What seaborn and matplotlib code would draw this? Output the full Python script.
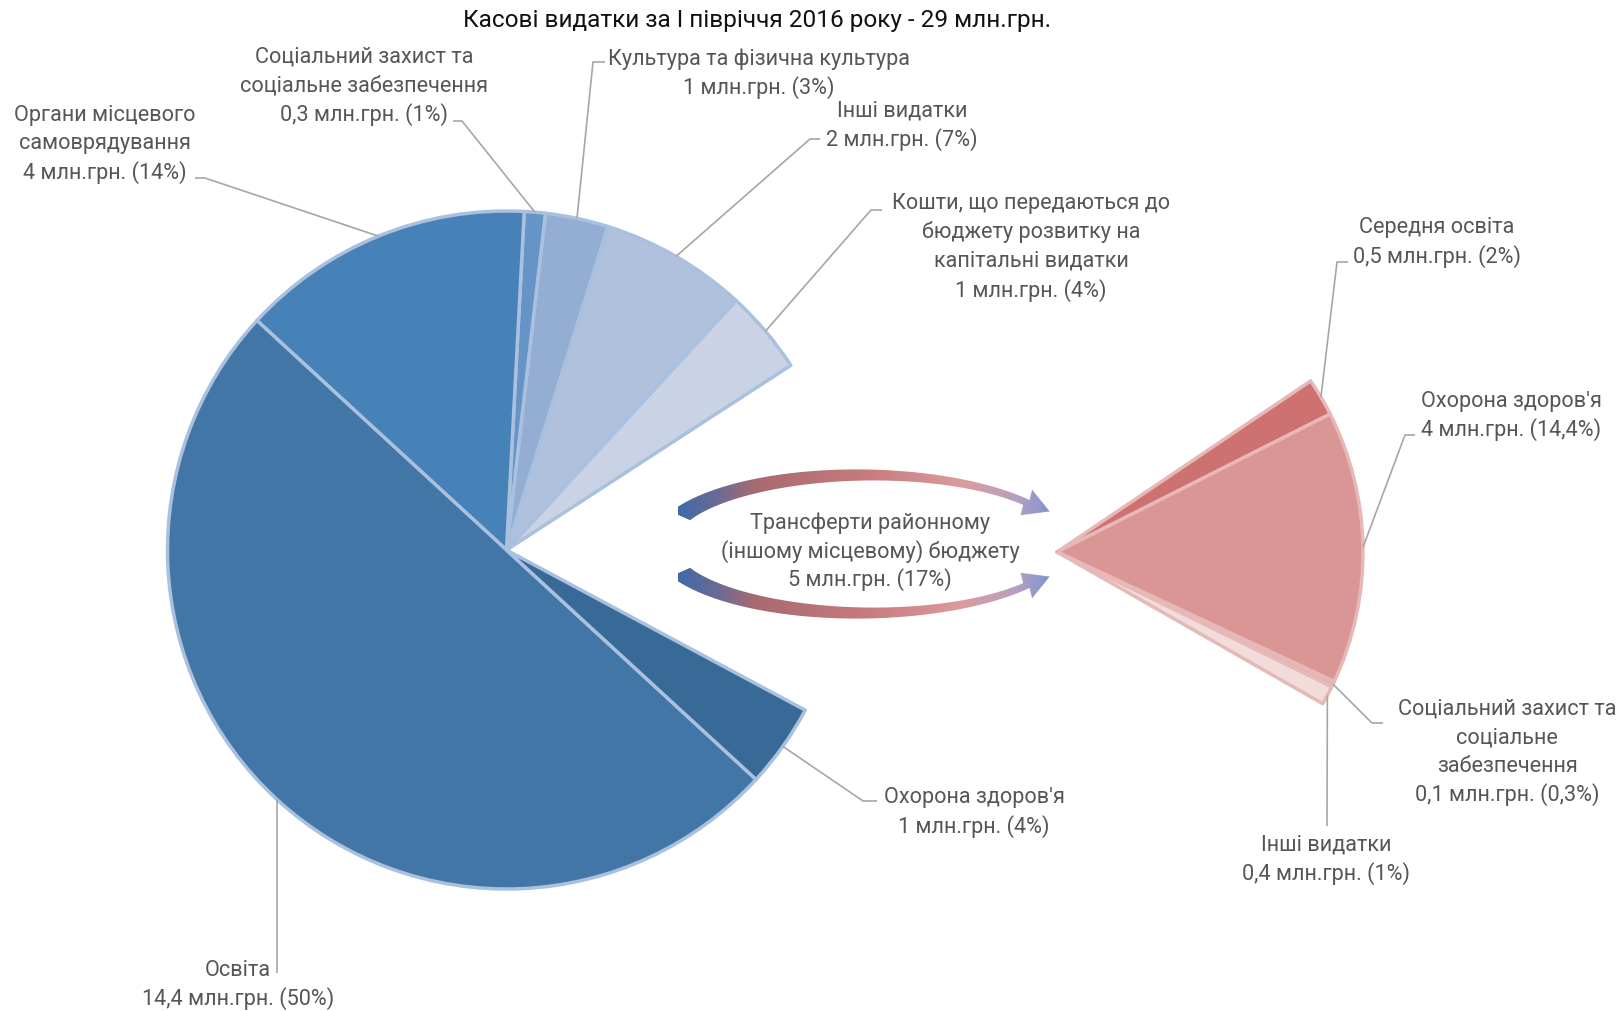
import numpy as np
import matplotlib
matplotlib.use("Agg")
import matplotlib.pyplot as plt
import seaborn as sns
from matplotlib.patches import Polygon
from matplotlib.colors import LinearSegmentedColormap

sns.set_theme(style="white")
plt.rcParams['font.family'] = ['Roboto', 'DejaVu Sans']

W, H = 1621, 1011

title = "Касові видатки за І півріччя 2016 року - 29 млн.грн."

# Main budget: shares of total spending (%), amounts in млн.грн.
main_names = [
    "Трансферти районному\n(іншому місцевому) бюджету",
    "Кошти, що передаються до\nбюджету розвитку на\nкапітальні видатки",
    "Інші видатки",
    "Культура та фізична культура",
    "Соціальний захист та\nсоціальне забезпечення",
    "Органи місцевого\nсамоврядування",
    "Освіта",
    "Охорона здоров'я",
]
main_amounts = [5, 1, 2, 1, 0.3, 4, 14.4, 1]
main_shares = [17, 4, 7, 3, 1, 14, 50, 4]

# Breakdown of the transfers slice
sub_names = [
    "Середня освіта",
    "Охорона здоров'я",
    "Соціальний захист та\nсоціальне\nзабезпечення",
    "Інші видатки",
]
sub_amounts = [0.5, 4, 0.1, 0.4]
sub_shares = [2, 14.4, 0.3, 1]

main_colors = ["#ffffff", "#c9d3e5", "#afc1dc", "#93aed2", "#6694c6",
               "#4682b8", "#4176a6", "#376a96"]
sub_colors = ["#cd7171", "#d99694", "#e4b4b3", "#f2dcdb"]

TEXT = "#565656"
LEAD = "#a6a6a6"
FS = 15.6
DY = 2  # small downward nudge for text baselines


def num(v):
    s = f"{v:g}"
    return s.replace(".", ",")


def label_lines(name, amount, share):
    return name.split("\n") + [f"{num(amount)} млн.грн. ({num(share)}%)"]


fig = plt.figure(figsize=(W / 100, H / 100), dpi=100)
ax = fig.add_axes([0, 0, 1, 1])

# ---- main pie -------------------------------------------------------------
main_c = (506.5, 550.0)
main_r = 339.0
main_start = -28.2
wedges, _ = ax.pie(main_shares, colors=main_colors, startangle=main_start,
                   counterclock=True, center=(main_c[0], H - main_c[1]),
                   radius=main_r,
                   wedgeprops=dict(edgecolor="#aac0df", linewidth=2.5,
                                   joinstyle="round"))
wedges[0].set_visible(False)

# ---- secondary pie (transfers breakdown) ----------------------------------
sub_c = (1057.0, 552.0)
sub_r = 306.0
sub_start = 34.0
ax.pie(np.array(sub_shares) / 100.0, normalize=False, colors=sub_colors,
       startangle=sub_start, counterclock=False,
       center=(sub_c[0], H - sub_c[1]), radius=sub_r,
       wedgeprops=dict(edgecolor="#e6b9b8", linewidth=2.5, joinstyle="round"))


def mid_angles(shares, start, ccw=True):
    cum = np.cumsum(shares) - np.array(shares) / 2.0
    sign = 1 if ccw else -1
    return start + sign * 3.6 * cum


main_mid = mid_angles(main_shares, main_start, True)
sub_mid = mid_angles(sub_shares, sub_start, False)


def edge_point(c, r, ang):
    a = np.deg2rad(ang)
    return c[0] + r * np.cos(a), c[1] - r * np.sin(a)


def draw_text_block(lines, x, ys, color=TEXT, size=FS):
    for line, y in zip(lines, ys):
        ax.text(x, H - y - DY, line, ha="center", va="center", color=color,
                fontsize=size, zorder=6)


def leader(start, elbow, end):
    pts = [start, elbow] + ([end] if end is not None else [])
    xs = [p[0] for p in pts]
    ys = [H - p[1] for p in pts]
    ax.plot(xs, ys, color=LEAD, lw=1.2, solid_capstyle="butt", zorder=5)


# label layout for the main pie: (x centre, line y's, elbow, tail)
main_layout = {
    1: (1031, [201, 230, 259, 289], (871, 210), (882, 210)),
    2: (902, [109, 138], (810, 139), (820, 139)),
    3: (759, [57, 86], (593, 62), (605, 62)),
    4: (364, [55, 84, 113], (462, 121), (453, 121)),
    5: (105, [113, 142, 171], (205, 178), (195, 178)),
    6: (238, [968, 997], (277, 973), None),
    7: (974, [796, 825], (863, 801), (877, 801)),
}
for i, (x, ys, elbow, tail) in main_layout.items():
    lines = label_lines(main_names[i], main_amounts[i], main_shares[i])
    draw_text_block(lines, x, ys)
    leader(edge_point(main_c, main_r, main_mid[i]), elbow, tail)

sub_layout = {
    0: (1437, [226, 255], (1337, 262), (1348, 262)),
    1: (1511, [400, 428], (1405, 435), (1415, 435)),
    2: (1507, [707, 736, 764, 793], (1372, 723), (1383, 723)),
    3: (1326, [843, 872], (1327, 826), None),
}
for i, (x, ys, elbow, tail) in sub_layout.items():
    lines = label_lines(sub_names[i], sub_amounts[i], sub_shares[i])
    draw_text_block(lines, x, ys)
    leader(edge_point(sub_c, sub_r, sub_mid[i]), elbow, tail)

# ---- curved connector arrows with gradient fill --------------------------
arrow_cmap = LinearSegmentedColormap.from_list(
    "transfer",
    [(0.0, "#3f6aa6"), (0.1, "#6a6a95"), (0.2, "#a86a70"),
     (0.5, "#c87c7e"), (0.74, "#da9d9d"), (0.87, "#b9a0c0"),
     (1.0, "#6b93d3")])


def arrow_polygon(upper=True):
    cx, cy, a, b = 865.0, 544.0, 202.0, 69.0
    s = -1.0 if upper else 1.0
    t = np.deg2rad(np.linspace(156, 37, 90))
    frac = (t - t[-1]) / (t[0] - t[-1])
    w = 8.0 + 13.0 * frac ** 1.8
    outer = np.c_[cx + (a + w / 2) * np.cos(t), cy + s * (b + w / 2) * np.sin(t)]
    inner = np.c_[cx + (a - w / 2) * np.cos(t), cy + s * (b - w / 2) * np.sin(t)]
    te = t[-1]
    p = np.array([cx + a * np.cos(te), cy + s * b * np.sin(te)])
    tan = np.array([a * np.sin(te), -s * b * np.cos(te)])
    tan /= np.linalg.norm(tan)
    nrm = np.array([tan[1], -tan[0]])
    if np.dot(nrm, p - np.array([cx, cy])) < 0:
        nrm = -nrm
    head = [p + nrm * 14, p + tan * 25 + nrm * 1.5, p - nrm * 14]
    pts = np.vstack([outer, head, inner[::-1]])
    pts[:, 1] = H - pts[:, 1]
    return pts


grad = np.linspace(0, 1, 256).reshape(1, -1)
for up in (True, False):
    poly = Polygon(arrow_polygon(up), closed=True, facecolor="none",
                   edgecolor="none", transform=ax.transData)
    ax.add_patch(poly)
    im = ax.imshow(grad, extent=[678, 1064, H - 630, H - 460], cmap=arrow_cmap,
                   aspect="auto", interpolation="bilinear", zorder=3)
    im.set_clip_path(poly)

center_lines = label_lines(main_names[0], main_amounts[0], main_shares[0])
draw_text_block(center_lines, 870, [521, 550, 578])

ax.text(757, H - 20, title, ha="center", va="center", color="#111111",
        fontsize=17.6, zorder=6)

ax.set_xlim(0, W)
ax.set_ylim(0, H)
ax.set_aspect("auto")
ax.axis("off")

fig.savefig("out.png", dpi=100, facecolor="white")
